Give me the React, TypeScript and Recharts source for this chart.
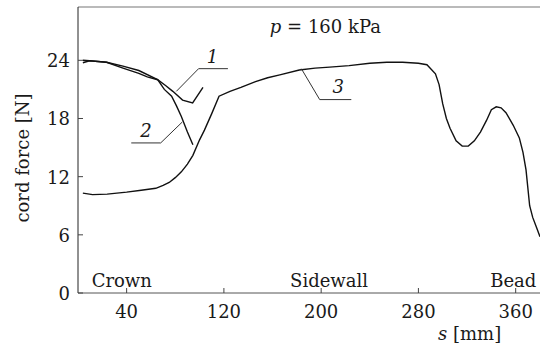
import React from 'react';
import {
  LineChart,
  Line,
  XAxis,
  YAxis,
  ReferenceLine,
  ReferenceDot,
} from 'recharts';

// s [mm] and cord force [N]
const curve1S = [4, 9.5, 23.5, 37, 50, 65.5, 72, 78, 86, 94.3, 102.8];
const curve1F = [23.75, 23.95, 23.8, 23.4, 22.95, 22.0, 21.4, 20.8, 19.9, 19.6, 21.2];

const curve2S = [4, 9.5, 23.5, 37, 50, 57, 65.5, 71, 77, 81, 85, 90, 94.5];
const curve2F = [24.0, 23.95, 23.8, 23.2, 22.65, 22.3, 22.0, 21.0, 20.3, 19.3, 18.2, 16.6, 15.3];

const curve3S = [
  4, 12, 24, 40, 52, 64, 70, 75, 80, 85, 90, 94.5, 100, 104, 110, 116, 125, 134,
  146, 156, 166, 182, 195, 207, 223, 240, 254, 267, 280, 287, 294, 297, 300, 303,
  306, 311, 316, 321, 326, 331, 336, 340, 344, 348, 352, 358, 363, 366, 368.5,
  371.5, 374, 377, 380,
];
const curve3F = [
  10.3, 10.15, 10.2, 10.4, 10.6, 10.8, 11.1, 11.4, 11.9, 12.5, 13.3, 14.2, 15.8,
  16.8, 18.5, 20.3, 20.8, 21.2, 21.8, 22.2, 22.5, 23.0, 23.2, 23.3, 23.45, 23.7,
  23.8, 23.8, 23.7, 23.55, 22.6, 21.5, 19.5, 18.0, 17.0, 15.7, 15.15, 15.15,
  15.7, 16.6, 17.8, 18.9, 19.2, 19.1, 18.6, 17.3, 16.0, 14.5, 12.7, 9.0, 7.8,
  6.8, 5.8,
];

const xTicks = [40, 120, 200, 280, 360];
const yTicks = [0, 6, 12, 18, 24];
const xDomain = [0, 380];
const yDomain = [0, 29.5];

const zones = ['Crown', 'Sidewall', 'Bead'];
const zoneS = [36, 206.5, 358];

const toRows = (s: number[], f: number[]) => s.map((v, i) => ({ s: v, f: f[i] }));

const FONT = "'DejaVu Serif', 'Liberation Serif', serif";
const INK = '#1a1a1a';
const Y_AXIS_W = 78;
const txt = { fontFamily: FONT, fontSize: 18, fill: INK };

const XTick = ({ x, y, payload }: any) => (
  <g>
    <line x1={x} y1={y} x2={x} y2={y - 5} stroke="#444" />
    <text x={x} y={y + 25} textAnchor="middle" style={txt}>
      {payload.value}
    </text>
  </g>
);

const YTick = ({ y, payload }: any) => (
  <g>
    <line x1={Y_AXIS_W} y1={y} x2={Y_AXIS_W + 5} y2={y} stroke="#444" />
    <text x={Y_AXIS_W - 8} y={y + 7} textAnchor="end" style={txt}>
      {payload.value}
    </text>
  </g>
);

const textAt = (content: React.ReactNode, anchor = 'start') => (props: any) => {
  const vb = props.viewBox || {};
  return (
    <text x={vb.x} y={vb.y} textAnchor={anchor} style={txt}>
      {content}
    </text>
  );
};

const lead = { stroke: '#333', strokeWidth: 1 };

export default function App() {
  return (
    <div style={{ position: 'absolute', left: 0, top: 0, background: '#fff' }}>
      <LineChart width={540} height={347} margin={{ top: 7, right: 0, bottom: 0, left: 0 }}>
        <XAxis
          type="number"
          dataKey="s"
          domain={xDomain}
          ticks={xTicks}
          allowDataOverflow
          height={54}
          tickSize={0}
          tickMargin={0}
          tickLine={false}
          tick={<XTick />}
          axisLine={{ stroke: '#555' }}
          label={(p: any) => (
            <text x={p.viewBox.x + 360} y={p.viewBox.y + 47} style={txt}>
              <tspan fontStyle="italic">s</tspan> [mm]
            </text>
          )}
        />
        <YAxis
          type="number"
          dataKey="f"
          domain={yDomain}
          ticks={yTicks}
          allowDataOverflow
          width={Y_AXIS_W}
          tickSize={0}
          tickMargin={0}
          tickLine={false}
          tick={<YTick />}
          axisLine={{ stroke: '#222' }}
          label={(p: any) => {
            const cx = 22;
            const cy = p.viewBox.y + 151;
            return (
              <text
                x={cx}
                y={cy}
                transform={`rotate(-90 ${cx} ${cy})`}
                textAnchor="middle"
                dominantBaseline="central"
                style={txt}
              >
                cord force [N]
              </text>
            );
          }}
        />
        <ReferenceLine y={yDomain[1]} stroke="#777" strokeWidth={1.2} />

        <Line data={toRows(curve3S, curve3F)} dataKey="f" type="linear" stroke="#111" strokeWidth={1.4} dot={false} activeDot={false} isAnimationActive={false} />
        <Line data={toRows(curve1S, curve1F)} dataKey="f" type="linear" stroke="#111" strokeWidth={1.4} dot={false} activeDot={false} isAnimationActive={false} />
        <Line data={toRows(curve2S, curve2F)} dataKey="f" type="linear" stroke="#111" strokeWidth={1.4} dot={false} activeDot={false} isAnimationActive={false} />

        {/* leader lines to curve numbers */}
        <ReferenceLine segment={[{ x: 80.9, y: 20.8 }, { x: 99.2, y: 23.14 }]} {...lead} />
        <ReferenceLine segment={[{ x: 99.2, y: 23.14 }, { x: 123.3, y: 23.14 }]} {...lead} />
        <ReferenceLine segment={[{ x: 43.8, y: 15.48 }, { x: 68, y: 15.48 }]} {...lead} />
        <ReferenceLine segment={[{ x: 68, y: 15.48 }, { x: 85.8, y: 17.64 }]} {...lead} />
        <ReferenceLine segment={[{ x: 183.7, y: 23.14 }, { x: 198.8, y: 19.95 }]} {...lead} />
        <ReferenceLine segment={[{ x: 198.8, y: 19.95 }, { x: 224.8, y: 19.95 }]} {...lead} />

        <ReferenceDot x={110.7} y={23.7} r={0} stroke="none" label={textAt(<tspan fontStyle="italic">1</tspan>, 'middle')} />
        <ReferenceDot x={56} y={16.07} r={0} stroke="none" label={textAt(<tspan fontStyle="italic">2</tspan>, 'middle')} />
        <ReferenceDot x={214} y={20.6} r={0} stroke="none" label={textAt(<tspan fontStyle="italic">3</tspan>, 'middle')} />
        <ReferenceDot
          x={157.8}
          y={26.8}
          r={0}
          stroke="none"
          label={textAt(
            <>
              <tspan fontStyle="italic">p</tspan> = 160 kPa
            </>
          )}
        />
        {zones.map((z, i) => (
          <ReferenceDot key={z} x={zoneS[i]} y={0.62} r={0} stroke="none" label={textAt(z, 'middle')} />
        ))}
      </LineChart>
    </div>
  );
}
